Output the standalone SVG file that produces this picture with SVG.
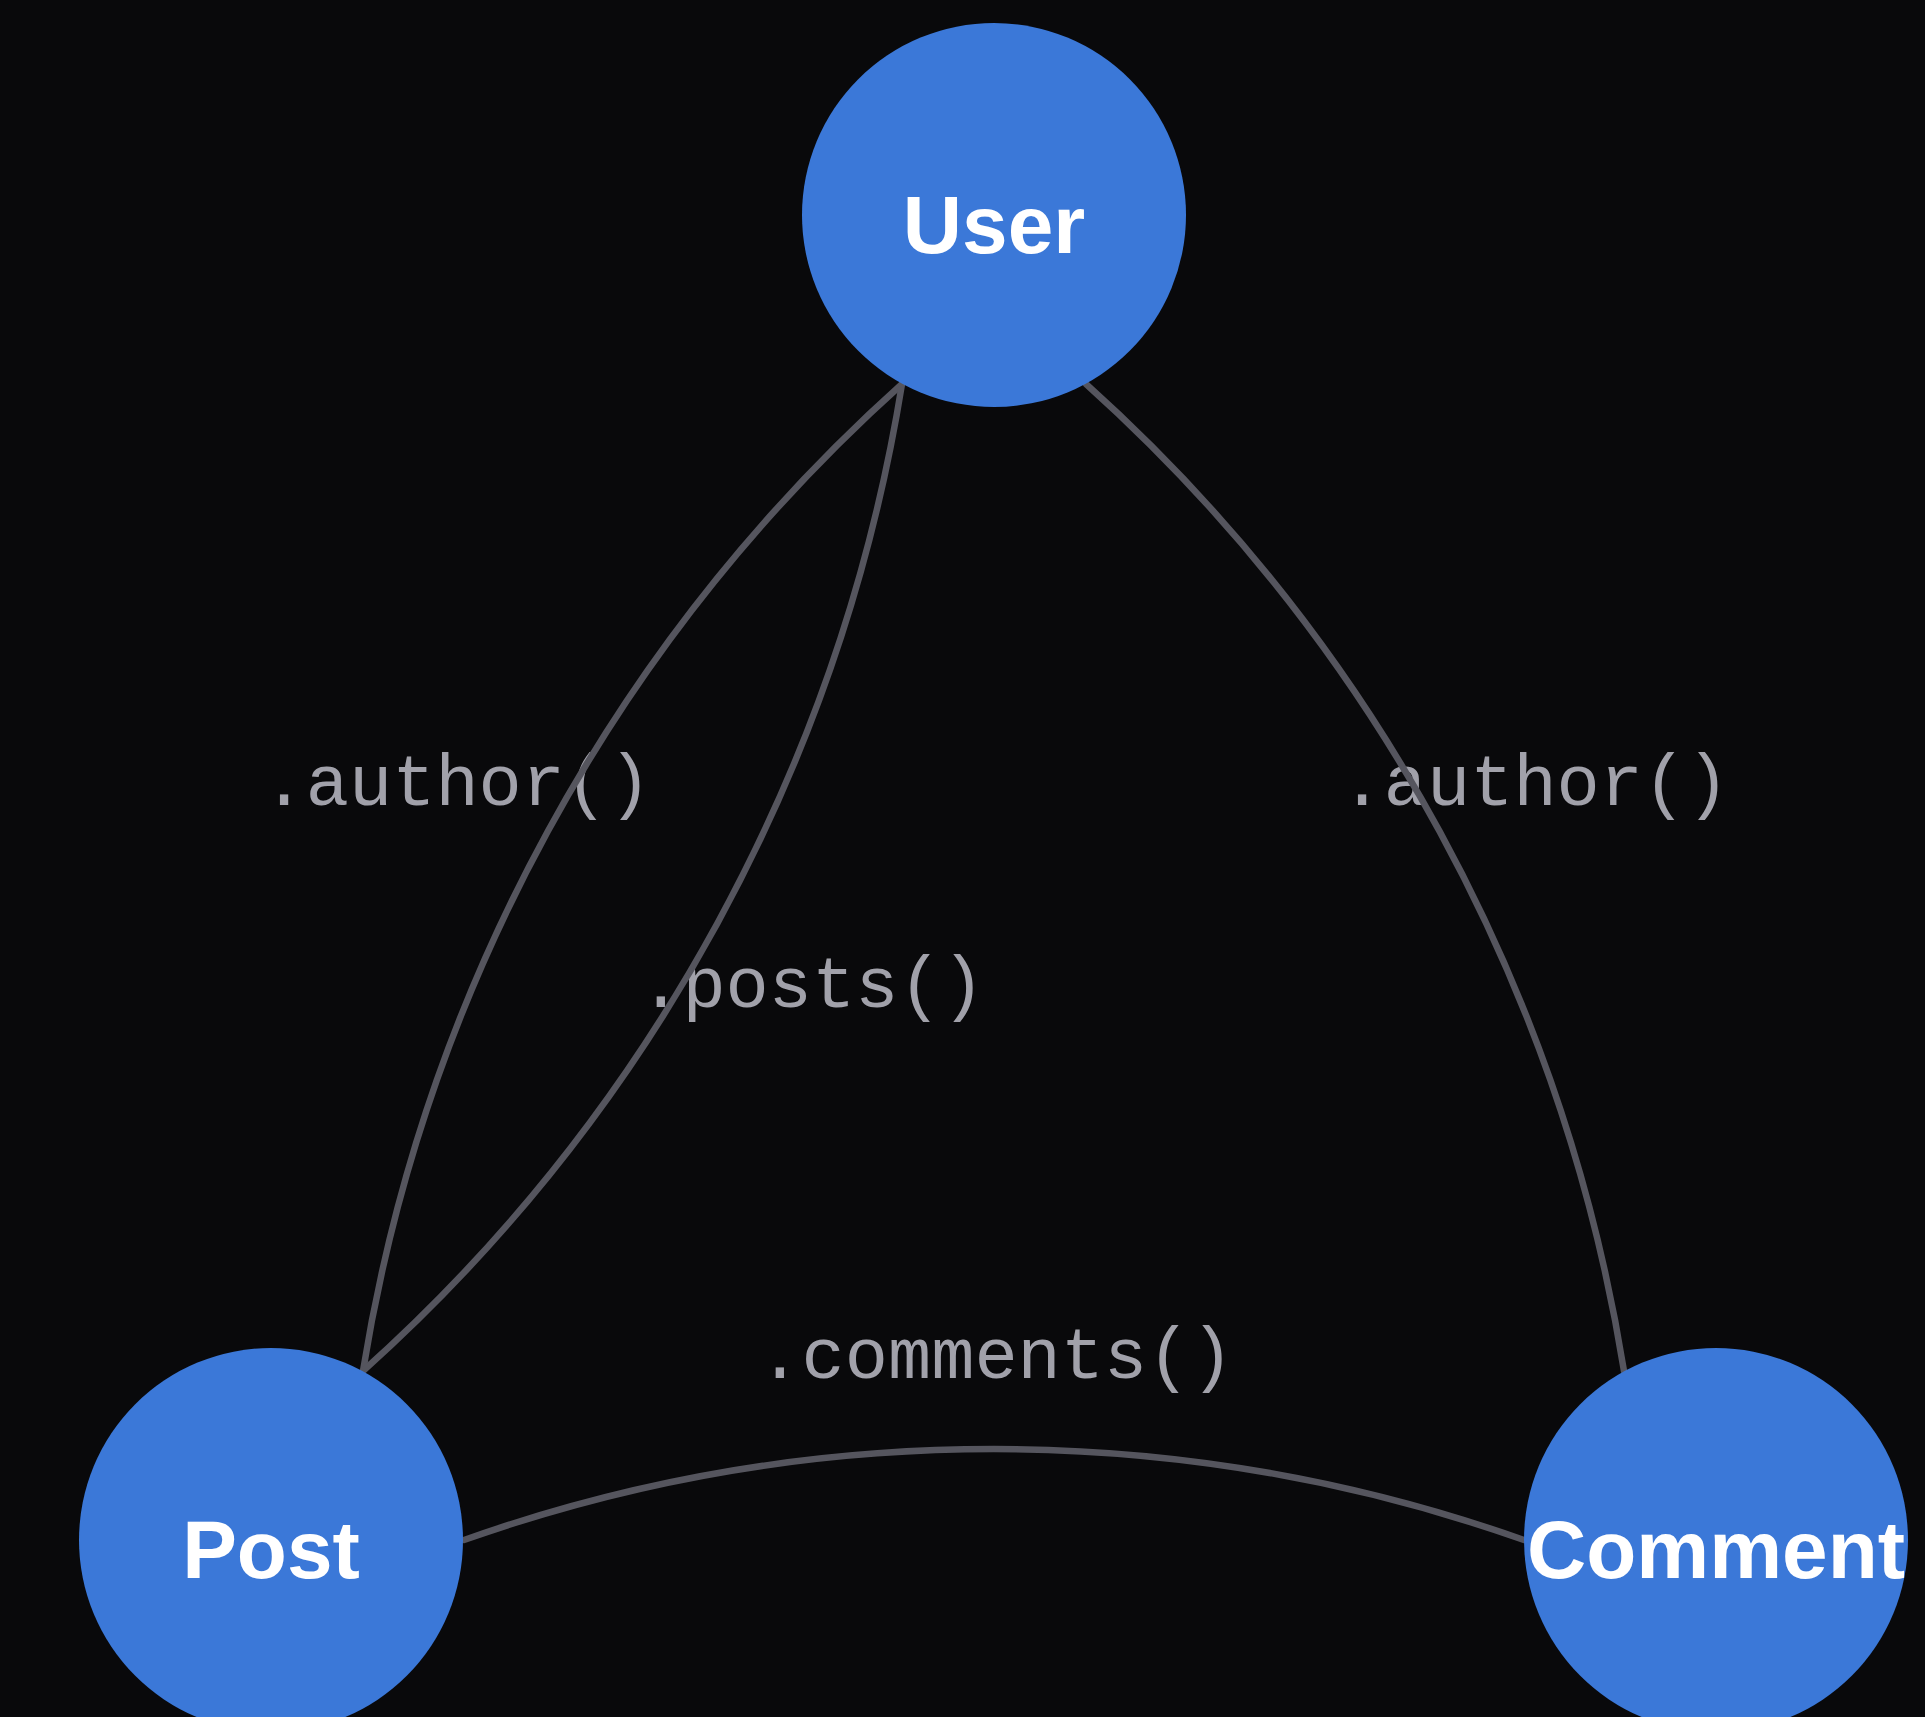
<svg xmlns="http://www.w3.org/2000/svg" width="1925" height="1717" viewBox="0 0 1925 1717">
<style>
.edge{fill:none;stroke:#55555e;stroke-width:6.5;stroke-linecap:round}
.elabel{font-family:"Liberation Mono","DejaVu Sans Mono",monospace;font-size:72px;fill:#a1a1aa;text-anchor:middle}
.node circle{fill:#3b78d8}
.node text{font-family:"Liberation Sans",Arial,sans-serif;font-weight:bold;font-size:82px;fill:#ffffff;text-anchor:middle}
</style>
<rect width="1925" height="1717" fill="#09090b"/>
<g id="connectors">
<text class="elabel" x="457" y="805">.author()</text>
<text class="elabel" x="812" y="1007">.posts()</text>
<text class="elabel" x="1535" y="805">.author()</text>
<text class="elabel" x="996" y="1378">.comments()</text>
<path id="e-post-user-author" class="edge" d="M902,384 A1687,1687 0 0 0 363,1371"/>
<path id="e-user-post-posts" class="edge" d="M902,384 A1687,1687 0 0 1 363,1371"/>
<path id="e-comment-user-author" class="edge" d="M1086,384 A1687,1687 0 0 1 1624,1371"/>
<path id="e-post-comment-comments" class="edge" d="M464,1540 A1590,1590 0 0 1 1524,1540"/>
</g>
<g id="node-user" class="node"><circle cx="994" cy="215" r="192"/><text x="994" y="253">User</text></g>
<g id="node-post" class="node"><circle cx="271" cy="1540" r="192"/><text x="271" y="1578">Post</text></g>
<g id="node-comment" class="node"><circle cx="1716" cy="1540" r="192"/><text x="1716" y="1578">Comment</text></g>
</svg>
